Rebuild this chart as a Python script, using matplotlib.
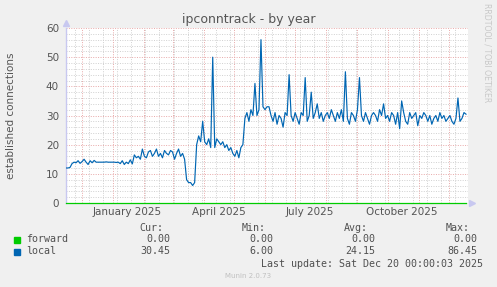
import matplotlib
matplotlib.use("Agg")
import matplotlib.pyplot as plt
import pandas as pd
from datetime import datetime

# data: daily-ish samples, one value every 2 days from start_date
start_date = datetime(2024, 11, 15)
end_date = datetime(2025, 12, 20)
step_days = 2

local = [
    12.0, 12.0, 12.2,
    13.5, 14.0, 13.8, 14.5, 13.6, 14.2, 15.0, 14.0, 13.2, 14.5, 13.8, 14.6, 14.0,
    14.0, 14.0, 14.0, 14.0, 14.1, 14.0, 14.0, 14.0, 14.0, 13.9, 14.0,
    13.5, 14.5, 13.2, 14.0, 13.5, 14.8, 13.4,
    16.5, 15.5, 16.0, 15.0, 18.5, 16.0, 15.5, 17.5, 18.0, 16.0, 17.0, 18.5,
    16.0, 17.0, 15.5, 18.0, 17.0, 16.5, 18.0, 17.5, 15.0, 17.0, 18.5, 16.0,
    17.0, 15.0, 8.0, 7.0, 7.0, 6.0, 7.0,
    20, 23, 21, 28, 21, 20, 22, 19, 50, 19, 22, 21, 20, 21, 19, 20, 18, 19, 17, 16, 18, 15.5, 19, 20,
    29, 31, 28, 32, 30, 41, 30, 32, 56, 33, 32, 33, 33, 30, 28, 31, 27, 30, 29, 26,
    31, 30, 44, 30, 28, 31, 29, 27, 31, 30, 43, 28, 30, 38, 29, 31, 34, 29, 31, 28,
    30, 31, 29, 32, 30, 28, 31, 29, 32, 28, 45, 29, 27, 31, 30, 28, 32, 43, 30, 28,
    31, 29, 27, 30, 31, 30, 28, 32, 30, 34, 29, 30, 28, 31, 30, 27, 31, 25.5, 35, 31,
    28, 27, 31, 29, 30, 31, 26.5, 30, 29, 31, 30, 28, 30, 27, 29, 30, 28, 31, 29, 30,
    28, 29, 30, 28, 27, 29, 36, 28, 29, 31, 30.45,
]
forward = [0.0] * len(local)

legend_names = ["forward", "local"]
legend_colors = ["#00CC00", "#0066B3"]
cur = ["0.00", "30.45"]
mins = ["0.00", "6.00"]
avgs = ["0.00", "24.15"]
maxs = ["0.00", "86.45"]

tick_dates = [datetime(2025, 1, 15), datetime(2025, 4, 16), datetime(2025, 7, 16), datetime(2025, 10, 15)]
tick_labels = ["January 2025", "April 2025", "July 2025", "October 2025"]

dates = pd.date_range(start_date, periods=len(local), freq=f"{step_days}D")

W, H = 497, 287
fig = plt.figure(figsize=(W / 100, H / 100), dpi=100, facecolor="#F0F0F0")
ax = fig.add_axes([66 / W, 1 - 203 / H, (468 - 66) / W, (203 - 28) / H])
ax.set_facecolor("white")

# grid
dot = (0, (1, 1.5))
for d in pd.date_range(datetime(2024, 11, 24), end_date, freq="14D"):
    ax.axvline(d, color="#D0D0D0", lw=0.7, ls=dot, zorder=1)
for d in pd.date_range(datetime(2024, 12, 1), end_date, freq="MS"):
    ax.axvline(d, color="#E8A8A8", lw=0.7, ls=dot, zorder=1.5)
for y in range(2, 61, 2):
    if y % 10 == 0:
        ax.axhline(y, color="#E8A8A8", lw=0.7, ls=dot, zorder=1.5)
    else:
        ax.axhline(y, color="#D0D0D0", lw=0.7, ls=dot, zorder=1)

ax.plot(dates, forward, color=legend_colors[0], lw=0.9, zorder=3, clip_on=False)
ax.plot(dates, local, color=legend_colors[1], lw=0.85, zorder=3)

ax.set_xlim(start_date, end_date)
ax.set_ylim(0, 60)
ax.set_yticks(range(0, 61, 10))
ax.set_xticks(tick_dates)
ax.set_xticklabels(tick_labels)
ax.tick_params(axis="both", length=0, labelsize=7.5, colors="#555555")
ax.tick_params(axis="y", pad=5)
ax.tick_params(axis="x", pad=3)

for s in ["top", "right", "bottom"]:
    ax.spines[s].set_visible(False)
ax.spines["left"].set_color("#C8C8F0")
ax.spines["left"].set_linewidth(1.0)
ax.plot([0], [1.03], marker="^", color="#C8C8F0", ms=4, transform=ax.transAxes, clip_on=False)
ax.plot([1.01], [0], marker=">", color="#C8C8F0", ms=4, transform=ax.transAxes, clip_on=False)

fig.text(0.5, 1 - 19 / H, "ipconntrack - by year", ha="center", va="center", fontsize=9, color="#555555")
fig.text(11 / W, 1 - 116 / H, "established connections", rotation=90, ha="center", va="center",
         fontsize=7.5, color="#555555")
fig.text(487 / W, 1 - 53 / H, "RRDTOOL / TOBI OETIKER", rotation=270, ha="center", va="center",
         fontsize=5.6, color="#C8C8C8")

# legend block
mono = dict(family="DejaVu Sans Mono", fontsize=7.2, color="#505050")
cols = [163, 266, 368, 470]
vcols = [170, 273, 375, 477]
for x, h in zip(cols, ["Cur:", "Min:", "Avg:", "Max:"]):
    fig.text(x / W, 1 - 228 / H, h, ha="right", va="center", **mono)
rows = [239.5, 251.5]
for i, name in enumerate(legend_names):
    y = 1 - rows[i] / H
    fig.patches.append(plt.Rectangle((14 / W, y - 3 / H), 6 / W, 6 / H, color=legend_colors[i],
                                     transform=fig.transFigure, figure=fig))
    fig.text(26 / W, y, name, ha="left", va="center", **mono)
    for x, v in zip(vcols, [cur[i], mins[i], avgs[i], maxs[i]]):
        fig.text(x / W, y, v, ha="right", va="center", **mono)
fig.text(483 / W, 1 - 264 / H, "Last update: Sat Dec 20 00:00:03 2025", ha="right", va="center", **mono)
fig.text(248 / W, 1 - 276 / H, "Munin 2.0.73", ha="center", va="center", fontsize=5, color="#C0C0C0")

fig.savefig("out.png", dpi=100, facecolor=fig.get_facecolor())
